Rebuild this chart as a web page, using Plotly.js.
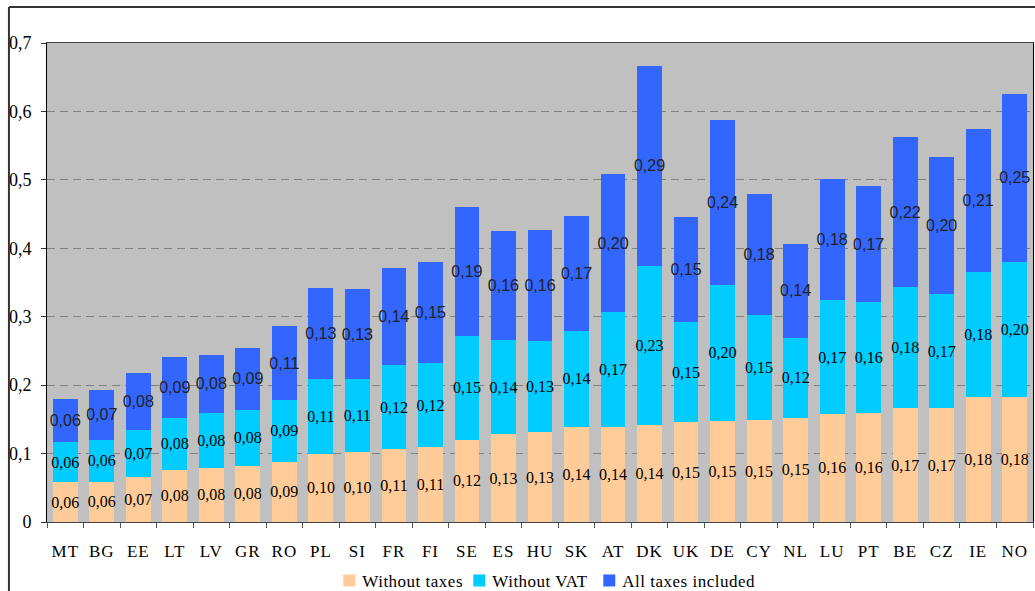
<!DOCTYPE html>
<html>
<head>
<meta charset="utf-8">
<script src="https://cdn.plot.ly/plotly-3.0.1.min.js"></script>
<style>
html,body{margin:0;padding:0;background:#fff;}
#chart{width:1035px;height:591px;}
#chart .legendtext{letter-spacing:0.5px;transform:translateX(-7px);}
#chart .legend .scrollbox{clip-path:none !important;}
#chart .xtick text{letter-spacing:1px;}
</style>
</head>
<body>
<div id="chart"></div>
<script>
var countries = ['MT','BG','EE','LT','LV','GR','RO','PL','SI','FR','FI','SE','ES','HU','SK','AT','DK','UK','DE','CY','NL','LU','PT','BE','CZ','IE','NO'];
// Segment values (EUR/kWh)
var withoutTaxes = [0.058,0.059,0.066,0.076,0.079,0.082,0.088,0.100,0.102,0.107,0.109,0.120,0.128,0.131,0.139,0.139,0.142,0.146,0.147,0.149,0.152,0.158,0.159,0.166,0.166,0.182,0.182];
var withoutVAT   = [0.059,0.061,0.068,0.076,0.081,0.082,0.090,0.109,0.107,0.122,0.123,0.152,0.138,0.133,0.140,0.168,0.232,0.146,0.200,0.153,0.117,0.166,0.162,0.177,0.167,0.184,0.198];
var allTaxes     = [0.063,0.073,0.084,0.089,0.084,0.091,0.108,0.133,0.131,0.142,0.148,0.188,0.159,0.162,0.168,0.201,0.293,0.153,0.241,0.177,0.138,0.177,0.170,0.219,0.201,0.209,0.246];
var seriesNames = ['Without taxes','Without VAT','All taxes included'];
var yTicks = [0,0.1,0.2,0.3,0.4,0.5,0.6,0.7];

var serif = "'Liberation Serif', 'Times New Roman', serif";
var sans = "'Liberation Sans', Arial, sans-serif";

function mk(vals, name, color, font) {
  return {
    type: 'bar', x: countries, y: vals, name: name,
    marker: {color: color, line: {width: 0}},
    texttemplate: '%{y:.2f}',
    textposition: 'inside', insidetextanchor: 'middle',
    textangle: 0, constraintext: 'none', cliponaxis: false,
    textfont: font, insidetextfont: font, hoverinfo: 'x+y+name'
  };
}

var data = [
  mk(withoutTaxes, seriesNames[0], '#FFCC99', {family: serif, size: 16, color: '#000'}),
  mk(withoutVAT, seriesNames[1], '#00CCFF', {family: serif, size: 16, color: '#000'}),
  mk(allTaxes, seriesNames[2], '#3366FF', {family: sans, size: 16, color: '#222'})
];

var layout = {
  width: 1035, height: 591,
  margin: {l: 47, r: 2, t: 43, b: 69, autoexpand: false},
  barmode: 'stack', bargap: 0.32,
  separators: ', ',
  paper_bgcolor: '#ffffff', plot_bgcolor: '#C0C0C0',
  font: {family: serif, color: '#000'},
  showlegend: true,
  legend: {orientation: 'h', x: 0.2863, xanchor: 'left', y: -0.123, yanchor: 'middle',
           font: {family: serif, size: 17, color: '#000'}, traceorder: 'normal',
           itemwidth: 30, entrywidth: 85, entrywidthmode: 'pixels', bgcolor: 'rgba(0,0,0,0)'},
  xaxis: {
    type: 'category', tickson: 'boundaries', ticks: 'outside', ticklen: 5, tickcolor: '#555',
    showline: true, linecolor: '#444', linewidth: 1, mirror: true,
    tickfont: {family: serif, size: 17, color: '#000'}, ticklabelstandoff: 14,
    showgrid: false, fixedrange: true
  },
  yaxis: {
    range: [0, 0.7], tickvals: yTicks, ticks: 'outside', ticklen: 5, tickcolor: '#333',
    showline: true, linecolor: '#000', linewidth: 1, mirror: true,
    tickfont: {family: serif, size: 18, color: '#000'}, ticklabelstandoff: 6,
    showgrid: true, gridcolor: '#808080', griddash: '8px,5px', gridwidth: 1,
    zeroline: false, fixedrange: true
  },
  shapes: [
    {type: 'line', xref: 'paper', yref: 'paper', x0: -0.0386, x1: -0.0386, y0: 1.0752, y1: -0.2, line: {color: '#333', width: 2}},
    {type: 'line', xref: 'paper', yref: 'paper', x0: -0.0386, x1: 1.01, y0: 1.0752, y1: 1.0752, line: {color: '#333', width: 2}}
  ]
};

Plotly.newPlot('chart', data, layout, {displayModeBar: false, staticPlot: true});
</script>
</body>
</html>
